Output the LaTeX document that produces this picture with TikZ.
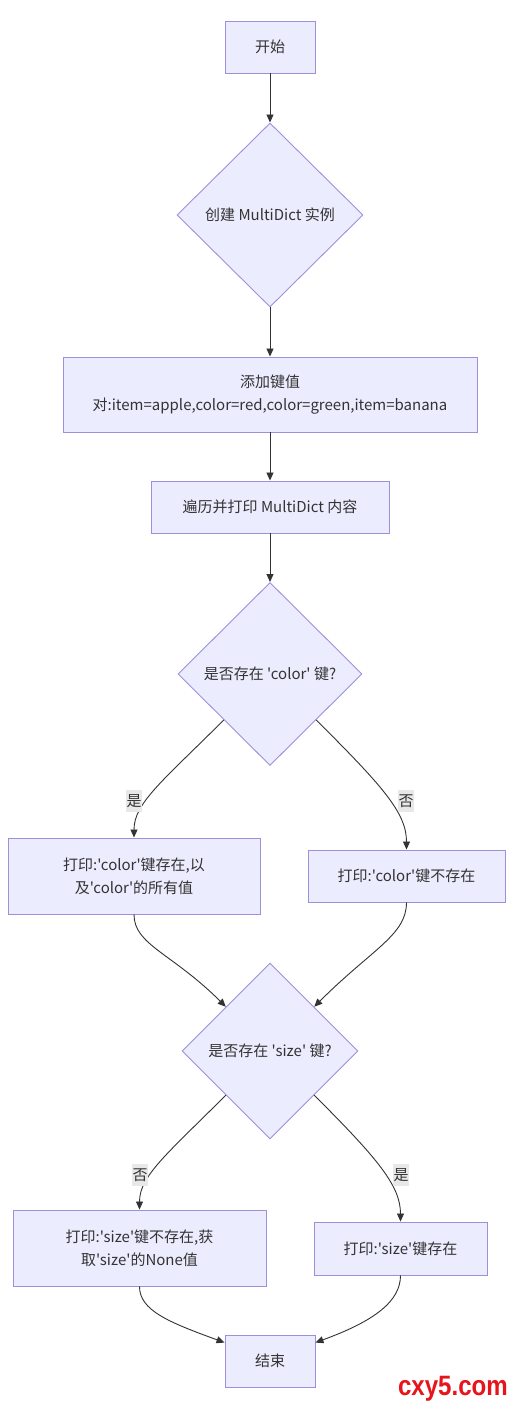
\documentclass[tikz,border=0pt]{standalone}
\usepackage{fontspec}
\usepackage{graphicx}
\newfontfamily\cjk{Noto Sans CJK SC}
\newfontfamily\markfont{Liberation Sans}
\usetikzlibrary{shapes.geometric,arrows.meta}
\definecolor{nodefill}{HTML}{ECECFF}
\definecolor{nodeline}{HTML}{9F8FDB}
\definecolor{edgeline}{HTML}{333333}
\definecolor{lblfill}{HTML}{E8E8E8}
\definecolor{markred}{HTML}{E8141B}

\begin{document}
\begin{tikzpicture}[x=1pt, y=1pt, >={Triangle[length=8pt,width=7pt]},
  base/.style={fill=nodefill, draw=nodeline, line width=0.9pt, text=edgeline,
    font=\cjk\fontsize{15}{23}\selectfont, align=center, inner sep=0pt},
  box/.style={base, rectangle},
  decision/.style={base, diamond, aspect=1},
  flow/.style={->, draw=edgeline, line width=0.9pt},
  branch/.style={flow, out looseness=1.5, in looseness=0.6},
  merge/.style={flow, out looseness=0.6, in looseness=1.5},
  lbl/.style={fill=lblfill, text=edgeline, font=\cjk\fontsize{15}{18}\selectfont,
    inner sep=0pt, minimum width=16pt, minimum height=22pt}]
  \useasboundingbox[fill=white] (0,0) rectangle (513,1409);
  % nodes
  \node[box, minimum width=90pt, minimum height=52pt] (start) at (270,1362) {开始};
  \node[decision, minimum width=186pt, minimum height=184pt] (create) at (270,1194) {创建 MultiDict 实例};
  \node[box, minimum width=414pt, minimum height=75pt] (addkv) at (270,1014.5) {添加键值\\对:item=apple,color=red,color=green,item=banana};
  \node[box, minimum width=238pt, minimum height=52pt] (traverse) at (270,902) {遍历并打印 MultiDict 内容};
  \node[decision, minimum width=184pt, minimum height=183pt] (hascolor) at (270,735) {是否存在 'color' 键?};
  \node[box, minimum width=252pt, minimum height=76pt] (colorok) at (134,533) {打印:'color'键存在,以\\及'color'的所有值};
  \node[box, minimum width=197pt, minimum height=52pt] (colorno) at (406.5,533) {打印:'color'键不存在};
  \node[decision, minimum width=176pt, minimum height=176pt] (hassize) at (270,358) {是否存在 'size' 键?};
  \node[box, minimum width=253pt, minimum height=76pt] (sizeno) at (139.5,161) {打印:'size'键不存在,获\\取'size'的None值};
  \node[box, minimum width=173pt, minimum height=53pt] (sizeok) at (400.5,160.5) {打印:'size'键存在};
  \node[box, minimum width=90pt, minimum height=52pt] (finish) at (270,48) {结束};
  % edges
  \draw[flow] (start) -- (create);
  \draw[flow] (create) -- (addkv);
  \draw[flow] (addkv) -- (traverse);
  \draw[flow] (traverse) -- (hascolor);
  \draw[branch] (hascolor.south west) to[out=-135, in=90] (colorok.north);
  \draw[branch] (hascolor.south east) to[out=-45, in=90] (colorno.north);
  \draw[merge] (colorok.south) to[out=-90, in=135] (hassize.north west);
  \draw[merge] (colorno.south) to[out=-90, in=45] (hassize.north east);
  \draw[branch] (hassize.south west) to[out=-135, in=90] (sizeno.north);
  \draw[branch] (hassize.south east) to[out=-45, in=90] (sizeok.north);
  \draw[merge] (sizeno.south) to[out=-90, in=160] ([yshift=-8pt]finish.north west);
  \draw[merge] (sizeok.south) to[out=-90, in=20] ([yshift=-8pt]finish.north east);
  % edge labels
  \node[lbl] (yes1) at (134,608) {是};
  \node[lbl] (no1) at (406,608) {否};
  \node[lbl] (no2) at (140,234) {否};
  \node[lbl] (yes2) at (401,234) {是};
  % watermark
  \node[font=\markfont\bfseries\fontsize{28}{28}\selectfont, text=markred, anchor=base east, inner sep=0pt] (mark) at (508,13) {\scalebox{0.86}[1]{cxy5.com}};
\end{tikzpicture}
\end{document}
